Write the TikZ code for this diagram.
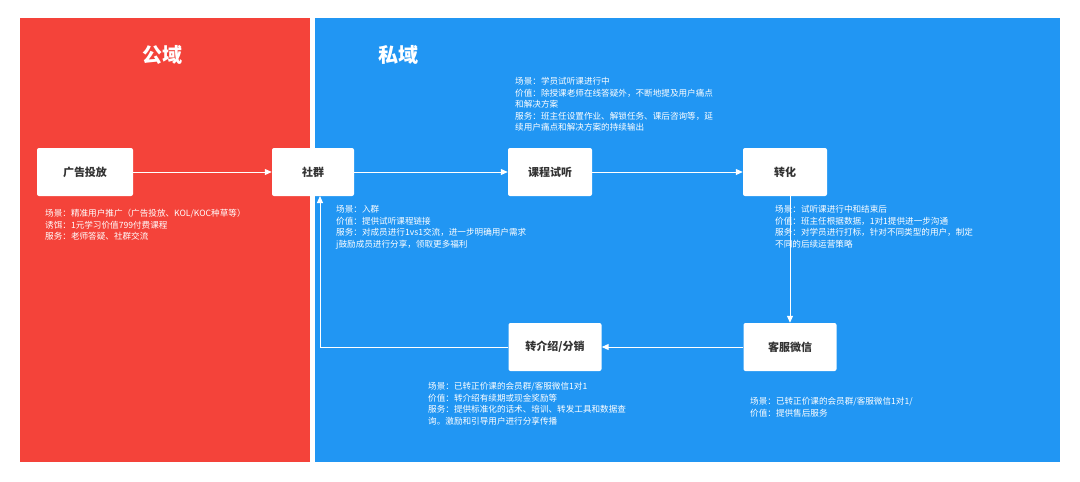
\documentclass[tikz,border=0pt]{standalone}
\usepackage{fontspec}
\newfontfamily\cjk{Noto Sans CJK SC}
\usetikzlibrary{arrows.meta}
\definecolor{redp}{HTML}{F4433A}
\definecolor{bluep}{HTML}{2196F3}
\begin{document}
\begin{tikzpicture}[x=1pt,y=-1pt,
 box/.style={fill=white,rounded corners=2pt,minimum height=48pt,font=\cjk\bfseries\fontsize{11}{13}\selectfont,text=black!80},
 note/.style={anchor=north west,align=left,text=white,font=\cjk\fontsize{8.6}{11.6}\selectfont,inner sep=0},
 title/.style={text=white,font=\cjk\bfseries\fontsize{20}{24}\selectfont},
 arr/.style={white,line width=1pt,-{Triangle[length=7pt,width=6pt]}}]
\useasboundingbox (0,0) rectangle (1080,482);
\fill[redp] (20,18) rectangle (310,462);
\fill[bluep] (315,18) rectangle (1060,462);
\node[title] (t1) at (162,55) {公域};
\node[title] (t2) at (398,55) {私域};
\node[box,minimum width=96pt] (a) at (85,172) {广告投放};
\node[box,minimum width=82pt] (b) at (313,172) {社群};
\node[box,minimum width=84pt] (c) at (550,172) {课程试听};
\node[box,minimum width=84pt] (d) at (785,172) {转化};
\node[box,minimum width=93pt] (e) at (790,347) {客服微信};
\node[box,minimum width=93pt] (f) at (555,347) {转介绍/分销};
\coordinate (k) at (320,347);
\coordinate (kb) at (320,196);
\draw[arr] (a) -- (b);
\draw[arr] (b) -- (c);
\draw[arr] (c) -- (d);
\draw[arr] (d.south -| e.north) -- (e.north);
\draw[arr] (e) -- (f);
\draw[arr] (f.west) -- (k) -- (kb);
\node[note] (n1) at (45,209) {场景：精准用户推广（广告投放、KOL/KOC种草等）\\诱饵：1元学习价值799付费课程\\服务：老师答疑、社群交流};
\node[note] (n2) at (336,205) {场景：入群\\价值：提供试听课程链接\\服务：对成员进行1vs1交流，进一步明确用户需求\\j鼓励成员进行分享，领取更多福利};
\node[note] (n3) at (515,77) {场景：学员试听课进行中\\价值：除授课老师在线答疑外，不断地提及用户痛点\\和解决方案\\服务：班主任设置作业、解锁任务、课后咨询等，延\\续用户痛点和解决方案的持续输出};
\node[note] (n4) at (775,205) {场景：试听课进行中和结束后\\价值：班主任根据数据，1对1提供进一步沟通\\服务：对学员进行打标，针对不同类型的用户，制定\\不同的后续运营策略};
\node[note] (n5) at (428,382) {场景：已转正价课的会员群/客服微信1对1\\价值：转介绍有续期或现金奖励等\\服务：提供标准化的话术、培训、转发工具和数据查\\询。激励和引导用户进行分享传播};
\node[note] (n6) at (750,397) {场景：已转正价课的会员群/客服微信1对1/\\价值：提供售后服务};
\end{tikzpicture}
\end{document}
